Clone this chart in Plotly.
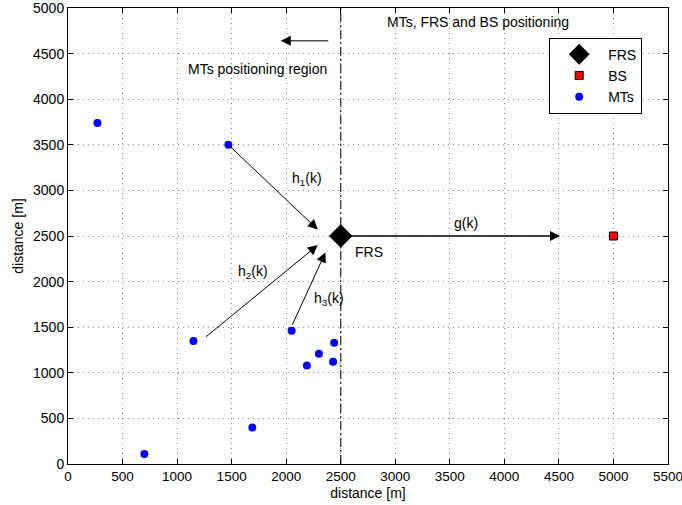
import plotly.graph_objects as go

# Data
frs_x = [2500]
frs_y = [2500]
bs_x = [5000]
bs_y = [2500]
mt_x = [270, 1470, 1150, 2050, 700, 1690, 2440, 2300, 2430, 2190]
mt_y = [3740, 3500, 1350, 1460, 110, 400, 1330, 1210, 1120, 1080]

# Arrows: (start_x, start_y, end_x, end_y)
arrow_h1 = (1470, 3500, 2290, 2570)
arrow_h2 = (1250, 1380, 2290, 2400)
arrow_h3 = (2050, 1510, 2360, 2320)
arrow_g = (2500, 2500, 4510, 2500)
arrow_region = (2400, 4640, 1950, 4640)

x_ticks = list(range(0, 5501, 500))
y_ticks = list(range(0, 5001, 500))

FAM = "Liberation Sans, Arial, Helvetica, sans-serif"
font = dict(family=FAM, size=13, color="black")

fig = go.Figure()

# vertical dash-dot line at FRS x
fig.add_trace(go.Scatter(x=[frs_x[0], frs_x[0]], y=[0, 5000], mode="lines",
                         line=dict(color="#333333", width=1.3, dash="9px,3px,2px,3px"),
                         showlegend=False, hoverinfo="skip"))
# g(k) line segment
fig.add_trace(go.Scatter(x=[frs_x[0], arrow_g[2] - 60], y=[frs_y[0], arrow_g[3]], mode="lines",
                         line=dict(color="#555555", width=1.5),
                         showlegend=False, hoverinfo="skip"))

fig.add_trace(go.Scatter(x=frs_x, y=frs_y, mode="markers", name="FRS",
                         marker=dict(symbol="diamond", size=18, color="black")))
fig.add_trace(go.Scatter(x=bs_x, y=bs_y, mode="markers", name="BS",
                         marker=dict(symbol="square", size=8, color="red",
                                     line=dict(color="black", width=1))))
fig.add_trace(go.Scatter(x=mt_x, y=mt_y, mode="markers", name="MTs",
                         marker=dict(symbol="circle", size=8, color="blue")))

def add_arrow(a, color="black"):
    fig.add_annotation(x=a[2], y=a[3], ax=a[0], ay=a[1],
                       xref="x", yref="y", axref="x", ayref="y",
                       showarrow=True, arrowhead=2, arrowsize=2,
                       arrowwidth=1, arrowcolor=color, text="",
                       font=dict(size=1))

add_arrow(arrow_h1)
add_arrow(arrow_h2)
add_arrow(arrow_h3)
add_arrow(arrow_g, color="black")
add_arrow(arrow_region)

def add_text(x, y, text):
    fig.add_annotation(x=x, y=y, xref="x", yref="y", text=text, showarrow=False,
                       font=dict(family=FAM, size=14, color="black"))

add_text(3760, 4846, "MTs, FRS and BS positioning")
add_text(1740, 4331, "MTs positioning region")
add_text(2190, 3130, "h<sub>1</sub>(k)")
add_text(1700, 2110, "h<sub>2</sub>(k)")
add_text(2390, 1810, "h<sub>3</sub>(k)")
add_text(2760, 2320, "FRS")
add_text(3650, 2640, "g(k)")

axis_common = dict(showline=True, linecolor="black", linewidth=1, mirror="ticks",
                   ticks="inside", ticklen=5, tickcolor="black",
                   showgrid=True, gridcolor="#888888", griddash="1px,4px", gridwidth=1,
                   zeroline=False,
                   automargin=False, ticklabeloverflow="allow")

fig.update_xaxes(range=[0, 5500], tickvals=x_ticks, ticktext=[str(v) for v in x_ticks],
                 tickfont=dict(family=FAM, size=13.5, color="black"),
                 title=dict(text="distance [m]", font=dict(family=FAM, size=14), standoff=4),
                 **axis_common)
fig.update_yaxes(range=[0, 5000], tickvals=y_ticks, ticktext=[str(v) for v in y_ticks],
                 tickfont=dict(family=FAM, size=14, color="black"),
                 title=dict(text="distance [m]", font=dict(family=FAM, size=14), standoff=6),
                 **axis_common)

fig.update_layout(
    width=682, height=505,
    margin=dict(l=68, r=14, t=8, b=41),
    plot_bgcolor="white", paper_bgcolor="white",
    font=font,
    legend=dict(x=0.802, y=0.935, xanchor="left", yanchor="top",
                bordercolor="black", borderwidth=1, bgcolor="white",
                font=dict(family=FAM, size=14), itemwidth=48,
                itemsizing="trace", tracegroupgap=0),
)

fig.write_html("out.html", config={"displayModeBar": False},
               post_script="document.body.style.margin='0px';document.body.style.overflow='hidden';")
